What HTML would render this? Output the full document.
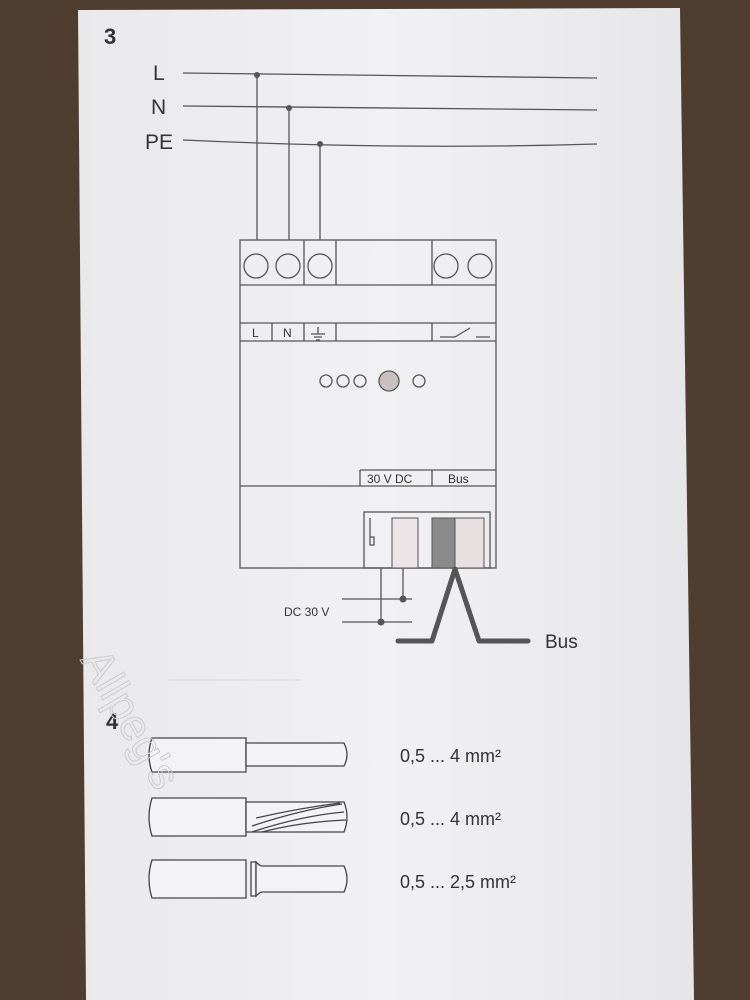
<!DOCTYPE html>
<html><head><style>
body{margin:0;width:750px;height:1000px;overflow:hidden;background:#4f3d30;}
</style></head><body>
<svg width="750" height="1000" xmlns="http://www.w3.org/2000/svg" style="position:absolute;left:0;top:0">
<defs><linearGradient id="pg" x1="0" x2="1"><stop offset="0" stop-color="#e9e9ec"/><stop offset="0.5" stop-color="#f1f1f3"/><stop offset="1" stop-color="#e6e6e9"/></linearGradient></defs>
<rect width="750" height="1000" fill="#4f3d30"/>
<polygon points="78,10 680,8 694,1000 86,1000" fill="url(#pg)"/>
<g font-family="Liberation Sans, sans-serif" fill="#333">
<text x="104" y="44" font-size="22" font-weight="bold">3</text>
<text x="106" y="729" font-size="22" font-weight="bold">4</text>
<text x="153" y="80" font-size="21">L</text>
<text x="151" y="114" font-size="21">N</text>
<text x="145" y="149" font-size="21">PE</text>
<text x="284" y="616" font-size="12">DC 30 V</text>
<text x="545" y="648" font-size="19">Bus</text>
<text x="400" y="762" font-size="18">0,5 ... 4 mm²</text>
<text x="400" y="825" font-size="18">0,5 ... 4 mm²</text>
<text x="400" y="888" font-size="18">0,5 ... 2,5 mm²</text>
</g>
<g stroke="#555" stroke-width="1.3" fill="none">
<path d="M183,73 L597,78"/><path d="M183,106 L597,110"/><path d="M183,140 Q400,150 597,144"/>
<path d="M257,75 V240 M289,108 V240 M320,144 V240"/>
<rect x="240" y="240" width="256" height="328"/>
<path d="M240,285 H496 M240,323 H496 M240,341 H496 M240,486 H496"/>
<path d="M304,240 V285 M336,240 V285 M432,240 V285"/>
<path d="M272,323 V341 M304,323 V341 M336,323 V341 M432,323 V341"/>
<circle cx="256" cy="266" r="12"/><circle cx="288" cy="266" r="12"/><circle cx="320" cy="266" r="12"/>
<circle cx="446" cy="266" r="12"/><circle cx="480" cy="266" r="12"/>
<circle cx="326" cy="381" r="6"/><circle cx="343" cy="381" r="6"/><circle cx="360" cy="381" r="6"/><circle cx="419" cy="381" r="6"/>
<path d="M360,470 H496 M360,470 V486 M432,470 V486"/>
<path d="M440,337 H455 L470,328 M476,337 H490"/>
<path d="M311,334 H325 M314,337 H322 M316,340 H320 M318,327 V334"/>
<rect x="364" y="512" width="126" height="56"/>
<path d="M381,568 V622 M403,568 V599 M342,599 H412 M342,622 H412"/>
<path d="M370,518 V545 h4 v-8 h-4" />
<path d="M168,680 H300" stroke="#ddd"/>
</g>
<rect x="392" y="518" width="26" height="50" fill="#ece4e6" stroke="#555"/>
<rect x="432" y="518" width="23" height="50" fill="#8a8a8a" stroke="#555"/>
<rect x="455" y="518" width="29" height="50" fill="#e8dfe1" stroke="#555"/>
<circle cx="389" cy="381" r="10" fill="#c8c0c0" stroke="#555" stroke-width="1.3"/>
<circle cx="403" cy="599" r="3.5" fill="#555"/><circle cx="381" cy="622" r="3.5" fill="#555"/>
<circle cx="257" cy="75" r="3" fill="#555"/><circle cx="289" cy="108" r="3" fill="#555"/><circle cx="320" cy="144" r="3" fill="#555"/>
<g font-family="Liberation Sans, sans-serif" fill="#333" font-size="12">
<text x="252" y="337">L</text><text x="283" y="337">N</text>
<text x="367" y="483">30 V DC</text><text x="448" y="483">Bus</text>
</g>
<path d="M398,641 H432 L455,569 L479,641 H528" stroke="#555" stroke-width="5" fill="none" stroke-linejoin="round" stroke-linecap="round"/>
<g stroke="#444" stroke-width="1.3" fill="#f3f3f5">
<path d="M152,738 H246 V772 H152 Q146,755 152,738Z"/>
<path d="M246,743 H344 Q350,755 344,766 H246Z"/>
<path d="M152,798 H246 V836 H152 Q146,817 152,798Z"/>
<path d="M246,802 H344 Q350,817 344,832 H246Z"/>
<path d="M252,826 Q300,810 342,804 M252,832 Q300,816 344,812 M256,818 Q300,808 340,803 M262,832 Q300,822 346,820" fill="none"/>
<path d="M152,860 H246 V898 H152 Q146,879 152,860Z"/>
<path d="M251,862 H256 V896 H251Z"/>
<path d="M256,862 Q260,866 262,866 H344 Q350,879 344,892 H262 Q260,892 256,896Z"/>
</g>
<text x="80" y="660" transform="rotate(60 80 660)" font-family="Liberation Sans, sans-serif" font-size="44" fill="none" stroke="#ccc" stroke-width="1">Allpeg's</text>
</svg>
</body></html>
